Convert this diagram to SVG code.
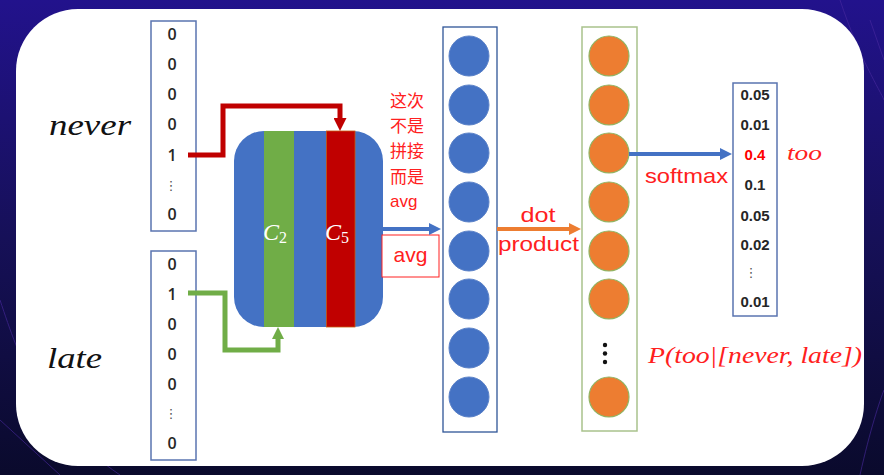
<svg xmlns="http://www.w3.org/2000/svg" width="884" height="475" viewBox="0 0 884 475">
<defs>
<linearGradient id="bg" x1="0" y1="0" x2="0" y2="1">
<stop offset="0" stop-color="#22128c"/>
<stop offset="0.5" stop-color="#161058"/>
<stop offset="1" stop-color="#0a0a2c"/>
</linearGradient>
<marker id="ahRed" viewBox="0 0 13 13" refX="0" refY="6.5" markerWidth="13" markerHeight="13" markerUnits="userSpaceOnUse" orient="auto"><path d="M0,0 L13,6.5 L0,13 z" fill="#c00000"/></marker>
<marker id="ahGreen" viewBox="0 0 12 12" refX="0" refY="6" markerWidth="12" markerHeight="12" markerUnits="userSpaceOnUse" orient="auto"><path d="M0,0 L12,6 L0,12 z" fill="#70ad47"/></marker>
<marker id="ahBlue" viewBox="0 0 12 12" refX="0" refY="6" markerWidth="12" markerHeight="12" markerUnits="userSpaceOnUse" orient="auto"><path d="M0,0 L12,6 L0,12 z" fill="#4472c4"/></marker>
<marker id="ahOrange" viewBox="0 0 12 12" refX="0" refY="6" markerWidth="12" markerHeight="12" markerUnits="userSpaceOnUse" orient="auto"><path d="M0,0 L12,6 L0,12 z" fill="#ed7d31"/></marker>
</defs>
<style>
.vec{fill:#fff;stroke:#5a74b0;stroke-width:1.5}
.num{font-family:"Open Sans","Liberation Sans",sans-serif;font-size:16px;font-weight:600;fill:#262626;text-anchor:middle}
.dots{font-family:"DejaVu Sans",sans-serif;font-size:13px;fill:#555;text-anchor:middle}
.pnum{font-family:"Liberation Sans",Arial,sans-serif;font-size:15px;font-weight:bold;fill:#262626;text-anchor:middle}
.math{font-family:"Liberation Serif","Times New Roman",serif;font-style:italic}
.red{fill:#ff2020}
.cn{font-family:"Liberation Sans","Noto Sans CJK SC",sans-serif;font-size:17px;fill:#ff2020}
.lbl{font-family:"Liberation Sans","Noto Sans CJK SC",sans-serif;font-size:21px;fill:#ff2020}
.bc{fill:#4472c4;stroke:#5b82c8;stroke-width:1}
.oc{fill:#ed7d31;stroke:#8fb564;stroke-width:1.2}
.conn{fill:none;stroke-linejoin:miter}
</style>
<rect x="0" y="0" width="884" height="475" fill="url(#bg)"/>
<g stroke="#4a2aa0" stroke-width="1" opacity="0.6" fill="none">
<path d="M840,0 C860,60 880,90 884,100"/>
<path d="M870,20 L884,60"/>
<path d="M0,300 C20,360 40,420 120,475"/>
<path d="M0,420 L60,475"/>
<path d="M860,475 C870,430 880,400 884,390"/>
</g>
<rect x="16" y="9" width="848" height="457" rx="62" ry="62" fill="#fff"/>

<g id="never-label"><text x="49" y="135" class="math" font-size="30" fill="#111" textLength="82" lengthAdjust="spacingAndGlyphs">never</text></g>
<g id="late-label"><text x="47" y="368" class="math" font-size="30" fill="#111" textLength="55" lengthAdjust="spacingAndGlyphs">late</text></g>

<g id="never-vector">
<rect x="151" y="21" width="45" height="210" class="vec"/>
<text x="172" y="40" class="num">0</text>
<text x="172" y="70" class="num">0</text>
<text x="172" y="100" class="num">0</text>
<text x="172" y="130" class="num">0</text>
<text x="172" y="161" class="num">1</text>
<text x="171" y="190" class="dots">⋮</text>
<text x="172" y="220" class="num">0</text>
</g>

<g id="late-vector">
<rect x="151" y="251" width="45" height="209" class="vec"/>
<text x="172" y="270" class="num">0</text>
<text x="172" y="300" class="num">1</text>
<text x="172" y="330" class="num">0</text>
<text x="172" y="360" class="num">0</text>
<text x="172" y="390" class="num">0</text>
<text x="171" y="418" class="dots">⋮</text>
<text x="172" y="449" class="num">0</text>
</g>

<g id="embedding-matrix">
<rect x="234" y="131" width="149" height="196" rx="30" ry="30" fill="#4472c4"/>
<rect x="264" y="131" width="30" height="196" fill="#70ad47"/>
<rect x="326.5" y="131" width="28.5" height="196" fill="#c00000" stroke="#c55a11" stroke-width="0.8"/>
<text x="263" y="240" class="math" font-size="24" fill="#fff">C<tspan font-style="normal" font-size="16" dy="3">2</tspan></text>
<text x="325" y="240" class="math" font-size="24" fill="#fff">C<tspan font-style="normal" font-size="16" dy="3">5</tspan></text>
</g>

<g id="note">
<text class="cn"><tspan x="390" y="107">这次</tspan><tspan x="390" y="132">不是</tspan><tspan x="390" y="157">拼接</tspan><tspan x="390" y="183">而是</tspan><tspan x="390" y="207">avg</tspan></text>
</g>

<g id="avg-box">
<rect x="382" y="235" width="57" height="42" fill="#fff" stroke="#ff2020" stroke-width="1"/>
<text x="410.5" y="262" class="lbl" font-size="20" text-anchor="middle">avg</text>
</g>

<g id="hidden-layer">
<rect x="443" y="27" width="54" height="405" fill="#fff" stroke="#2f5597" stroke-width="1.3"/>
<circle cx="469" cy="56" r="20" class="bc"/>
<circle cx="469" cy="105" r="20" class="bc"/>
<circle cx="469" cy="153" r="20" class="bc"/>
<circle cx="469" cy="202" r="20" class="bc"/>
<circle cx="469" cy="251" r="20" class="bc"/>
<circle cx="469" cy="299" r="20" class="bc"/>
<circle cx="469" cy="348" r="20" class="bc"/>
<circle cx="469" cy="397" r="20" class="bc"/>
</g>

<g id="output-layer">
<rect x="582" y="27" width="55" height="404" fill="#fff" stroke="#a9c28c" stroke-width="1.5"/>
<circle cx="609" cy="56" r="20" class="oc"/>
<circle cx="609" cy="105" r="20" class="oc"/>
<circle cx="609" cy="153" r="20" class="oc"/>
<circle cx="609" cy="202" r="20" class="oc"/>
<circle cx="609" cy="251" r="20" class="oc"/>
<circle cx="609" cy="299" r="20" class="oc"/>
<circle cx="605" cy="345" r="2.2" fill="#111"/>
<circle cx="605" cy="353.5" r="2.2" fill="#111"/>
<circle cx="605" cy="362" r="2.2" fill="#111"/>
<circle cx="609" cy="397" r="20" class="oc"/>
</g>

<g id="prob-vector">
<rect x="733" y="83" width="44" height="233" class="vec"/>
<text x="755" y="100" class="pnum">0.05</text>
<text x="755" y="130" class="pnum">0.01</text>
<text x="755" y="160" class="pnum" style="fill:#ff0000">0.4</text>
<text x="755" y="190" class="pnum">0.1</text>
<text x="755" y="221" class="pnum">0.05</text>
<text x="755" y="250" class="pnum">0.02</text>
<text x="751" y="277" class="dots">⋮</text>
<text x="755" y="307" class="pnum">0.01</text>
</g>

<g id="too-label"><text x="787" y="160" class="math red" font-size="22" textLength="35" lengthAdjust="spacingAndGlyphs">too</text></g>
<g id="prob-label"><text x="648" y="363" class="math red" font-size="23" textLength="214" lengthAdjust="spacingAndGlyphs">P(too|[never, late])</text></g>

<g id="connectors">
<path class="conn" d="M188,155 H223 V106 H340 V118" stroke="#c00000" stroke-width="5" marker-end="url(#ahRed)"/>
<path class="conn" d="M188,293 H225 V350 H278 V339" stroke="#70ad47" stroke-width="5" marker-end="url(#ahGreen)"/>
<path class="conn" d="M383,229 H429" stroke="#4472c4" stroke-width="4" marker-end="url(#ahBlue)"/>
<path class="conn" d="M497,229 H569" stroke="#ed7d31" stroke-width="4" marker-end="url(#ahOrange)"/>
<path class="conn" d="M629,154 H720" stroke="#4472c4" stroke-width="4" marker-end="url(#ahBlue)"/>
</g>

<g id="edge-labels">
<text x="538" y="222" class="lbl" text-anchor="middle" textLength="35" lengthAdjust="spacingAndGlyphs">dot</text>
<text x="498" y="251" class="lbl" textLength="81" lengthAdjust="spacingAndGlyphs">product</text>
<text x="645" y="183" class="lbl" font-size="20" textLength="83" lengthAdjust="spacingAndGlyphs">softmax</text>
</g>
</svg>
